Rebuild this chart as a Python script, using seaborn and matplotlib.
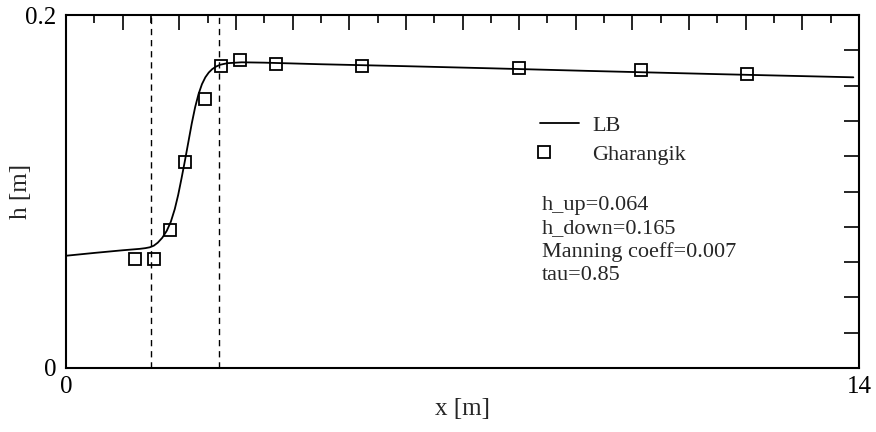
import numpy as np
import pandas as pd
import matplotlib
matplotlib.use("Agg")
import matplotlib.pyplot as plt
from matplotlib.ticker import MultipleLocator, FuncFormatter
from matplotlib.legend_handler import HandlerLine2DCompound
import seaborn as sns

# LB simulation profile
lb_x = [0.0, 0.5, 1.0, 1.3, 1.4, 1.48, 1.55, 1.62, 1.7, 1.78, 1.85, 1.92,
        1.98, 2.04, 2.1, 2.16, 2.22, 2.28, 2.34, 2.4, 2.46, 2.52, 2.58,
        2.65, 2.72, 2.85, 3.1, 3.5, 4.5, 6.0, 7.5, 9.25, 11.5, 13.9]
lb_h = [0.0636, 0.0652, 0.0667, 0.0675, 0.0679, 0.0684, 0.0693, 0.0710,
        0.0738, 0.0778, 0.0828, 0.0900, 0.0980, 0.1075, 0.1175, 0.1280,
        0.1385, 0.1478, 0.1552, 0.1608, 0.1647, 0.1674, 0.1693, 0.1708,
        0.1718, 0.1727, 0.1732, 0.1730, 0.1721, 0.1710, 0.1698, 0.1683,
        0.1665, 0.1647]

# Gharangik measurements
gh_x = [1.21, 1.55, 1.83, 2.1, 2.45, 2.73, 3.08, 3.7, 5.23, 8.0, 10.15, 12.02]
gh_h = [0.0618, 0.0618, 0.0782, 0.1165, 0.1526, 0.1713, 0.1745, 0.1724,
        0.1711, 0.1700, 0.1688, 0.1667]

# dashed markers of the jump region
jump_x = [1.5, 2.7]

params = ["h_up=0.064", "h_down=0.165", "Manning coeff=0.007", "tau=0.85"]

lb = pd.DataFrame({"x": lb_x, "h": lb_h})
gh = pd.DataFrame({"x": gh_x, "h": gh_h})

sns.set_style("white")
plt.rcParams["font.family"] = ["Liberation Serif", "DejaVu Serif"]


class MarkerAtLeft(HandlerLine2DCompound):
    # put the single legend marker at the left end of the handle
    def get_xdata(self, legend, xdescent, ydescent, width, height, fontsize):
        xdata = np.array([-xdescent, width - xdescent])
        return xdata, np.array([-xdescent + 3.0])


fig = plt.figure(figsize=(8.76, 4.32), dpi=100)
ax = fig.add_axes([66 / 876, 64 / 432, 793 / 876, 353 / 432])

sns.lineplot(data=lb, x="x", y="h", ax=ax, color="black", lw=1.3,
             label="LB", estimator=None, sort=False)
sns.lineplot(data=gh, x="x", y="h", ax=ax, color="black", linestyle="none",
             marker="s", markersize=8.5, markerfacecolor="none",
             markeredgecolor="black", markeredgewidth=1.3,
             label="Gharangik", estimator=None, sort=False)

for xv in jump_x:
    ax.axvline(xv, color="black", lw=1.0, ls=(0, (4.5, 3.5)))

ax.set_xlim(0, 14)
ax.set_ylim(0, 0.2)
ax.xaxis.set_major_locator(MultipleLocator(1))
ax.xaxis.set_minor_locator(MultipleLocator(0.5))
ax.yaxis.set_major_locator(MultipleLocator(0.02))


def end_labels(lo, hi, txt_lo, txt_hi):
    def fmt(v, pos):
        if abs(v - lo) < 1e-9:
            return txt_lo
        if abs(v - hi) < 1e-9:
            return txt_hi
        return ""
    return FuncFormatter(fmt)


ax.xaxis.set_major_formatter(end_labels(0, 14, "0", "14"))
ax.yaxis.set_major_formatter(end_labels(0, 0.2, "0", "0.2"))

ax.tick_params(which="both", direction="in", top=True, right=True,
               width=1.2, colors="black", labelsize=18)
ax.tick_params(which="major", length=10.8)
ax.tick_params(which="minor", length=5.5)
ax.tick_params(axis="x", pad=6)
ax.tick_params(axis="y", pad=7)
for sp in ax.spines.values():
    sp.set_linewidth(1.5)
    sp.set_color("black")

ax.set_xlabel("x [m]", fontsize=18, labelpad=0)
ax.set_ylabel("h [m]", fontsize=18)
ax.yaxis.set_label_coords(-0.043, 0.5)

handles, labels = ax.get_legend_handles_labels()
ax.legend(handles, labels, loc="upper left", bbox_to_anchor=(0.598, 0.716),
          frameon=False, fontsize=16, handlelength=1.75, handletextpad=0.6,
          labelspacing=0.4, borderpad=0, borderaxespad=0,
          handler_map={handles[1]: MarkerAtLeft()})

ax.text(0.6, 0.487, "\n".join(params), transform=ax.transAxes,
        fontsize=16, va="top", ha="left", linespacing=1.28)

fig.savefig("out.png", dpi=100)
